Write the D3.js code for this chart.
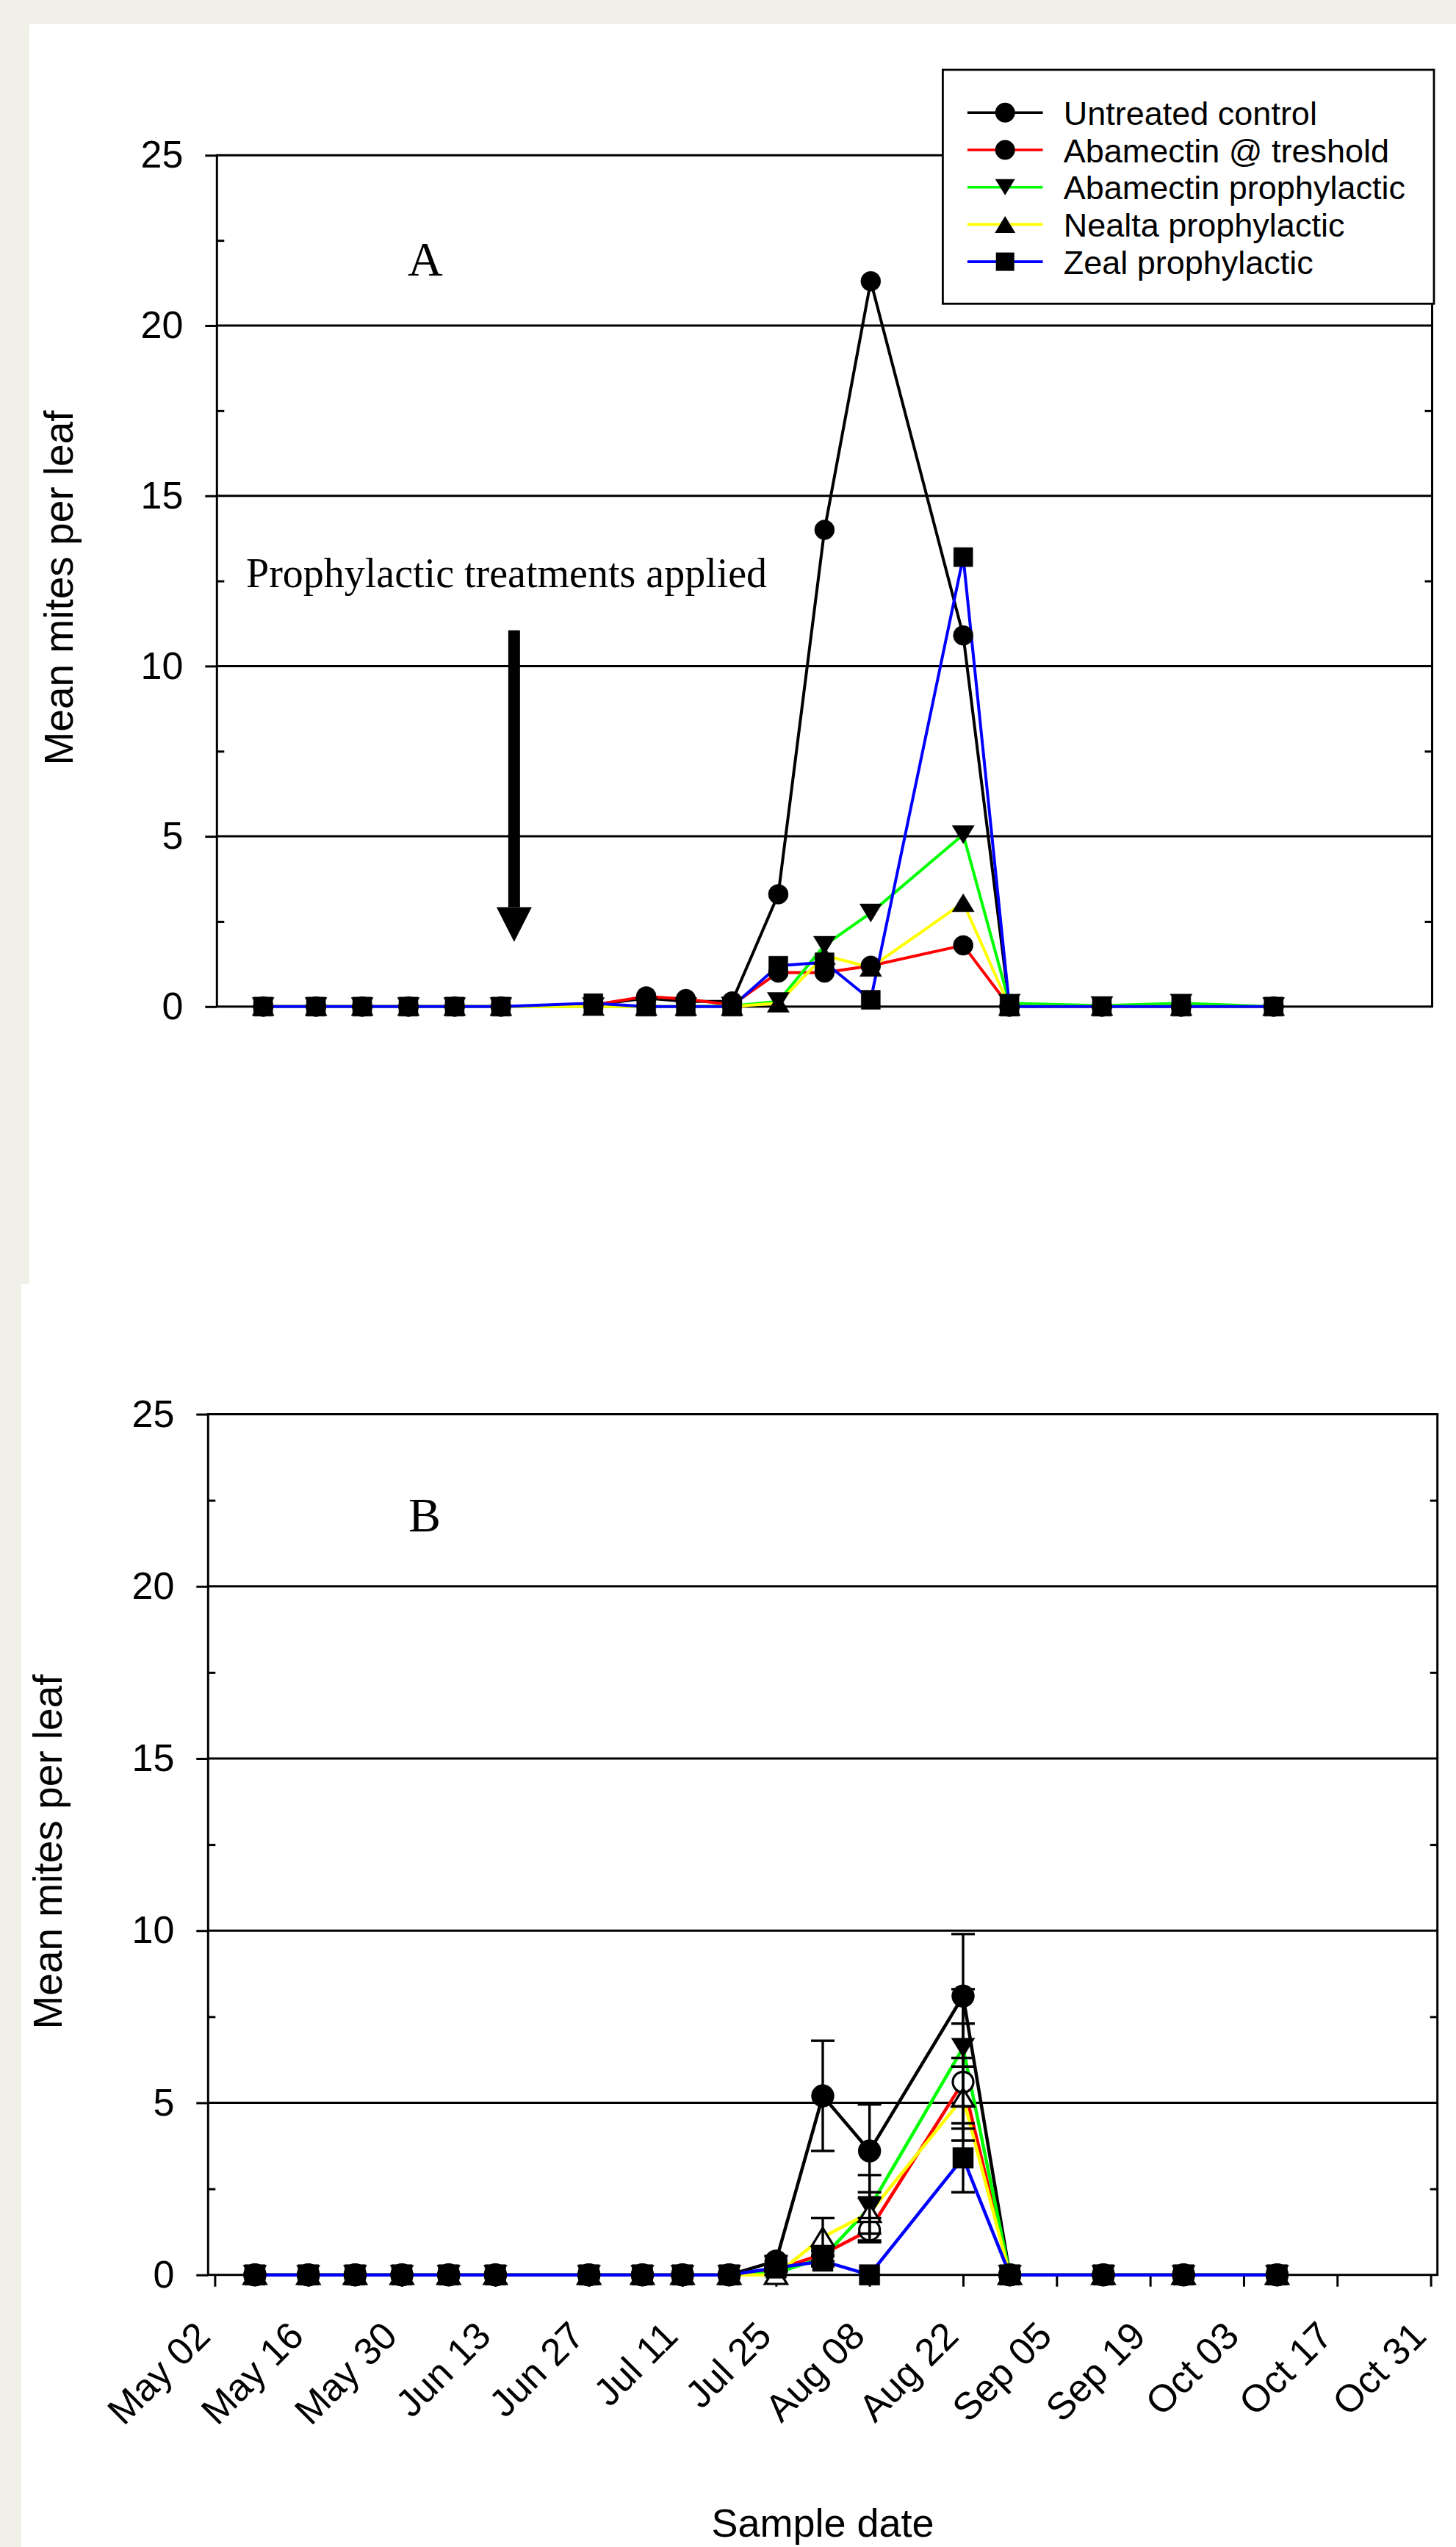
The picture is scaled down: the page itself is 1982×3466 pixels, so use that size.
<!DOCTYPE html>
<html>
<head>
<meta charset="utf-8">
<script src="https://cdnjs.cloudflare.com/ajax/libs/d3/7.8.5/d3.min.js"></script>
<style>
  body { margin: 0; background: #f0f0e8; }
  svg { display: block; }
</style>
</head>
<body>
<div id="chart"></div>
<script>
// ---- data ----
const treatments = ["Untreated control", "Abamectin @ treshold", "Abamectin prophylactic", "Nealta prophylactic", "Zeal prophylactic"];
const lineColors = ["#000000", "#ff0000", "#00ff00", "#ffff00", "#0000ff"];

const sampleDates = ["2005-05-08", "2005-05-16", "2005-05-23", "2005-05-30", "2005-06-06", "2005-06-13",
  "2005-06-27", "2005-07-05", "2005-07-11", "2005-07-18", "2005-07-25", "2005-08-01", "2005-08-08",
  "2005-08-22", "2005-08-29", "2005-09-12", "2005-09-24", "2005-10-08"];
const tickDates = ["2005-05-02", "2005-05-16", "2005-05-30", "2005-06-13", "2005-06-27", "2005-07-11", "2005-07-25",
  "2005-08-08", "2005-08-22", "2005-09-05", "2005-09-19", "2005-10-03", "2005-10-17", "2005-10-31"];
const yTicks = [0, 5, 10, 15, 20, 25];
const yMinor = [2.5, 7.5, 12.5, 17.5, 22.5];
const gridVals = [5, 10, 15, 20];

// panel A
const controlA   = [0, 0, 0, 0, 0, 0, 0.05, 0.25, 0.15, 0.15, 3.3, 14.0, 21.3, 10.9, 0, 0, 0, 0];
const abaThreshA = [0, 0, 0, 0, 0, 0, 0.05, 0.3, 0.22, 0.05, 1.0, 1.0, 1.2, 1.8, 0, 0, 0, 0];
const abaProphA  = [0, 0, 0, 0, 0, 0, 0, 0, 0, 0.02, 0.15, 1.8, 2.75, 5.05, 0.1, 0.03, 0.1, 0];
const nealtaA    = [0, 0, 0, 0, 0, 0, 0, 0, 0, 0, 0.1, 1.5, 1.15, 3.05, 0, 0, 0, 0];
const zealA      = [0, 0, 0, 0, 0, 0, 0.1, 0, 0, 0, 1.2, 1.3, 0.2, 13.2, 0, 0, 0, 0];

// panel B
const controlB   = [0, 0, 0, 0, 0, 0, 0, 0, 0, 0, 0.4, 5.2, 3.6, 8.1, 0, 0, 0, 0];
const abaThreshB = [0, 0, 0, 0, 0, 0, 0, 0, 0, 0, 0.15, 0.6, 1.3, 5.6, 0, 0, 0, 0];
const abaProphB  = [0, 0, 0, 0, 0, 0, 0, 0, 0, 0, 0.05, 0.5, 1.95, 6.6, 0, 0, 0, 0];
const nealtaB    = [0, 0, 0, 0, 0, 0, 0, 0, 0, 0, 0, 1.1, 1.8, 5.15, 0, 0, 0, 0];
const zealB      = [0, 0, 0, 0, 0, 0, 0, 0, 0, 0, 0.2, 0.4, 0, 3.4, 0, 0, 0, 0];
// standard errors (panel B)
const controlSE   = [0, 0, 0, 0, 0, 0, 0, 0, 0, 0, 0.15, 1.6, 1.35, 1.8, 0, 0, 0, 0];
const abaThreshSE = [0, 0, 0, 0, 0, 0, 0, 0, 0, 0, 0.05, 0.2, 0.35, 1.7, 0, 0, 0, 0];
const abaProphSE  = [0, 0, 0, 0, 0, 0, 0, 0, 0, 0, 0.05, 0.2, 0.95, 1.7, 0, 0, 0, 0];
const nealtaSE    = [0, 0, 0, 0, 0, 0, 0, 0, 0, 0, 0, 0.55, 0.6, 0.9, 0, 0, 0, 0];
const zealSE      = [0, 0, 0, 0, 0, 0, 0, 0, 0, 0, 0.05, 0.15, 0, 1.0, 0, 0, 0, 0];

// ---- symbols (size = width in px) ----
const symCircle = { draw(c, w) { c.moveTo(w / 2, 0); c.arc(0, 0, w / 2, 0, 2 * Math.PI); } };
const symSquare = { draw(c, w) { c.rect(-w / 2, -w / 2, w, w); } };
const symTriUp = { draw(c, w) { const h = w * 0.82; c.moveTo(0, -h / 2); c.lineTo(w / 2, h / 2); c.lineTo(-w / 2, h / 2); c.closePath(); } };
const symTriDown = { draw(c, w) { const h = w * 0.82; c.moveTo(0, h / 2); c.lineTo(w / 2, -h / 2); c.lineTo(-w / 2, -h / 2); c.closePath(); } };

const parse = d3.timeParse("%Y-%m-%d");
const dates = sampleDates.map(parse);
const domainX = [parse("2005-05-01"), parse("2005-11-01")];

const W = 1982, H = 3466;
const svg = d3.select("#chart").append("svg").attr("width", W).attr("height", H);
svg.append("rect").attr("width", W).attr("height", H).attr("fill", "#f0f0e8");
svg.append("rect").attr("x", 40).attr("y", 33).attr("width", W - 40).attr("height", 1714).attr("fill", "#fff");
svg.append("rect").attr("x", 29).attr("y", 1747).attr("width", W - 29).attr("height", H - 1747).attr("fill", "#fff");

const SANS = "'Liberation Sans', Arial, Helvetica, sans-serif";
const SERIF = "'Liberation Serif', 'Times New Roman', serif";
const AXW = 3;

function drawPanel(cfg) {
  const g = svg.append("g");
  const x = d3.scaleTime().domain(domainX).range([cfg.left, cfg.right]);
  const y = d3.scaleLinear().domain([0, 25]).range([cfg.bottom, cfg.top]);

  // gridlines
  g.append("g").selectAll("line").data(gridVals).join("line")
    .attr("x1", cfg.left).attr("x2", cfg.right)
    .attr("y1", d => y(d)).attr("y2", d => y(d))
    .attr("stroke", "#000").attr("stroke-width", AXW);

  // frame
  g.append("rect")
    .attr("x", cfg.left).attr("y", cfg.top)
    .attr("width", cfg.right - cfg.left).attr("height", cfg.bottom - cfg.top)
    .attr("fill", "none").attr("stroke", "#000").attr("stroke-width", AXW);

  // y axis
  const ya = g.append("g").attr("transform", `translate(${cfg.left},0)`)
    .call(d3.axisLeft(y).tickValues(yTicks).tickSize(16).tickPadding(30));
  ya.select(".domain").remove();
  ya.attr("font-family", SANS).attr("font-size", 52);
  ya.selectAll("line").attr("stroke-width", AXW);
  ya.selectAll("text").attr("fill", "#000");

  const ym = g.append("g").attr("transform", `translate(${cfg.left},0)`)
    .call(d3.axisLeft(y).tickValues(yMinor).tickSize(-10).tickFormat(""));
  ym.select(".domain").remove();
  ym.selectAll("line").attr("stroke-width", AXW);
  const yr = g.append("g").attr("transform", `translate(${cfg.right},0)`)
    .call(d3.axisRight(y).tickValues(yMinor).tickSize(-10).tickFormat(""));
  yr.select(".domain").remove();
  yr.selectAll("line").attr("stroke-width", AXW);

  // x axis (panel B only)
  if (cfg.xAxis) {
    const xa = g.append("g").attr("transform", `translate(0,${cfg.bottom})`)
      .call(d3.axisBottom(x).tickValues(tickDates.map(parse)).tickSize(16).tickFormat(d3.timeFormat("%b %d")));
    xa.select(".domain").remove();
    xa.attr("font-family", SANS).attr("font-size", 52);
    xa.selectAll("line").attr("stroke-width", AXW);
    xa.selectAll("text").attr("fill", "#000")
      .attr("x", 0).attr("y", 0).attr("dy", 0)
      .attr("text-anchor", "end")
      .attr("transform", "translate(-4,86) rotate(-45)");

    svg.append("text").attr("x", (cfg.left + cfg.right) / 2).attr("y", 3452)
      .attr("text-anchor", "middle").attr("font-family", SANS).attr("font-size", 54)
      .text("Sample date");
  }

  // y label
  svg.append("text")
    .attr("transform", `translate(${cfg.ylabX},${cfg.ylabY}) rotate(-90)`)
    .attr("text-anchor", "middle").attr("font-family", SANS).attr("font-size", 55)
    .text("Mean mites per leaf");

  // panel letter
  svg.append("text").attr("x", cfg.letterX).attr("y", cfg.letterY)
    .attr("font-family", SERIF).attr("font-size", 66).text(cfg.letter);

  // lines
  const line = d3.line().x((d, i) => x(dates[i])).y(d => y(d));
  cfg.series.forEach((s, k) => {
    g.append("path").datum(s).attr("d", line)
      .attr("fill", "none").attr("stroke", lineColors[k])
      .attr("stroke-width", cfg.lw).attr("stroke-linejoin", "round");
  });

  // markers
  cfg.series.forEach((s, k) => {
    const m = cfg.markers[k];
    g.append("g").selectAll("path").data(s).join("path")
      .attr("transform", (d, i) => `translate(${x(dates[i])},${y(d)})`)
      .attr("d", d3.symbol().type(m.type).size(m.size))
      .attr("fill", m.open ? "#fff" : "#000")
      .attr("stroke", "#000").attr("stroke-width", m.open ? 3.2 : 0.5);
  });

  // error bars
  if (cfg.errors) {
    cfg.series.forEach((s, k) => {
      const se = cfg.errors[k];
      const pts = s.map((v, i) => ({ d: dates[i], v: v, e: se[i] })).filter(p => p.e > 0);
      const eg = g.append("g").attr("stroke", "#000").attr("stroke-width", 3.4);
      eg.selectAll(".v").data(pts).join("line")
        .attr("x1", p => x(p.d)).attr("x2", p => x(p.d))
        .attr("y1", p => y(p.v - p.e)).attr("y2", p => y(p.v + p.e));
      eg.selectAll(".t").data(pts.flatMap(p => [[p.d, p.v - p.e], [p.d, p.v + p.e]])).join("line")
        .attr("x1", p => x(p[0]) - 16).attr("x2", p => x(p[0]) + 16)
        .attr("y1", p => y(p[1])).attr("y2", p => y(p[1]));
    });
  }
  return { x, y, g };
}

// ---- panel A ----
const A = drawPanel({
  left: 295.3, right: 1949.5, top: 211.3, bottom: 1369.8,
  ylabX: 99, ylabY: 800, letter: "A", letterX: 555, letterY: 375, lw: 4,
  series: [controlA, abaThreshA, abaProphA, nealtaA, zealA],
  markers: [
    { type: symCircle, size: 27 }, { type: symCircle, size: 27 },
    { type: symTriDown, size: 30 }, { type: symTriUp, size: 30 }, { type: symSquare, size: 26 }
  ]
});

// annotation: treatments applied
svg.append("text").attr("x", 335).attr("y", 799)
  .attr("font-family", SERIF).attr("font-size", 56)
  .text("Prophylactic treatments applied");
const arrowX = A.x(parse("2005-06-15"));
svg.append("rect").attr("x", arrowX - 8).attr("y", A.y(11.05)).attr("width", 16)
  .attr("height", A.y(2.92) - A.y(11.05)).attr("fill", "#000");
svg.append("path")
  .attr("d", `M${arrowX - 24},${A.y(2.92)} L${arrowX + 24},${A.y(2.92)} L${arrowX},${A.y(1.9)} Z`)
  .attr("fill", "#000");

// legend
const leg = svg.append("g").attr("transform", "translate(1283.4,95)");
leg.append("rect").attr("width", 668.6).attr("height", 318.3)
  .attr("fill", "#fff").attr("stroke", "#000").attr("stroke-width", 2.8);
const legMarkers = [symCircle, symCircle, symTriDown, symTriUp, symSquare];
const legSizes = [27, 27, 27, 28, 25];
const rows = leg.selectAll(".row").data(treatments).join("g")
  .attr("transform", (d, i) => `translate(0,${58.3 + i * 50.7})`);
rows.append("line").attr("x1", 33.5).attr("x2", 136.2).attr("y1", 0).attr("y2", 0)
  .attr("stroke", (d, i) => lineColors[i]).attr("stroke-width", 3.6);
rows.append("path").attr("transform", "translate(84.8,0)")
  .attr("d", (d, i) => d3.symbol().type(legMarkers[i]).size(legSizes[i])())
  .attr("fill", "#000");
rows.append("text").attr("x", 164.3).attr("y", 0).attr("dy", "0.37em")
  .attr("font-family", SANS).attr("font-size", 45).text(d => d);

// ---- panel B ----
drawPanel({
  left: 283.3, right: 1956.7, top: 1924.5, bottom: 3095.7, xAxis: true,
  ylabX: 84, ylabY: 2520, letter: "B", letterX: 556, letterY: 2084, lw: 4.5,
  series: [controlB, abaThreshB, abaProphB, nealtaB, zealB],
  errors: [controlSE, abaThreshSE, abaProphSE, nealtaSE, zealSE],
  markers: [
    { type: symCircle, size: 31 }, { type: symCircle, size: 28, open: true },
    { type: symTriDown, size: 32 }, { type: symTriUp, size: 30, open: true }, { type: symSquare, size: 28 }
  ]
});
</script>
</body>
</html>
